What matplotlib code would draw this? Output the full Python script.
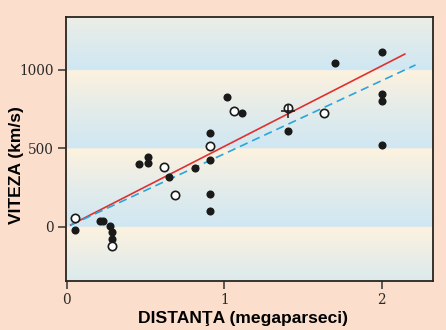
import numpy as np
import matplotlib
matplotlib.use("Agg")
import matplotlib.pyplot as plt
from matplotlib.colors import LinearSegmentedColormap

# Galaxy distances (Mpc) and radial velocities (km/s)
filled_dist = [0.053, 0.214, 0.232, 0.273, 0.284, 0.288, 0.459, 0.514, 0.514,
               0.646, 0.815, 0.912, 0.912, 0.912, 0.912, 1.014, 1.113,
               1.405, 1.704, 2.0, 2.0, 2.0, 2.0]
filled_vel = [-19, 40, 40, 6, -30, -78, 399, 444, 410,
              317, 374, 597, 427, 212, 102, 830, 726,
              613, 1046, 1113, 845, 805, 522]

open_dist = [0.05, 0.288, 0.618, 0.684, 0.912, 1.062, 1.405, 1.632]
open_vel = [55, -121, 384, 202, 516, 739, 760, 726]

mean_dist = [1.405]
mean_vel = [740]

# Fitted velocity-distance relations: slope (km/s per Mpc) and x span
fit_solid_slope = 513
fit_solid_span = [0.025, 2.146]
fit_dashed_slope = 466
fit_dashed_span = [0.025, 2.214]

x_ticks = [0, 1, 2]
y_ticks = [0, 500, 1000]

bg = "#FBDFCC"
fig = plt.figure(figsize=(4.46, 3.30), dpi=100, facecolor=bg)
ax = fig.add_axes([66 / 446, 1 - 281 / 330, 367 / 446, 264 / 330])

xmin, xmax = -0.005, 2.325
ymin, ymax = -344, 1337

# Banded background: each 500 km/s band fades from blue (bottom) to cream (top)
cmap = LinearSegmentedColormap.from_list("band", ["#CFE7F3", "#E4ECEA", "#FDF2DE"])
yy = np.linspace(ymin, ymax, 800)
t = np.mod(yy, 500) / 500.0
ax.imshow(t[:, None], aspect="auto", cmap=cmap, origin="lower",
          extent=[xmin, xmax, ymin, ymax], interpolation="bilinear", zorder=0)

for slope, span, style, col in [
    (fit_solid_slope, fit_solid_span, "-", "#E0302F"),
    (fit_dashed_slope, fit_dashed_span, (0, (5, 3)), "#2AA5DD"),
]:
    xs = np.array(span)
    ax.plot(xs, slope * xs, linestyle=style, color=col, lw=1.2, zorder=2)

ax.scatter(filled_dist, filled_vel, s=34, color="#1a1a1a", zorder=3, linewidths=0)
ax.scatter(open_dist, open_vel, s=36, facecolor="white", edgecolor="#1a1a1a",
           linewidths=1.2, zorder=3)
ax.scatter(mean_dist, mean_vel, s=110, marker="+", color="#1a1a1a",
           linewidths=1.1, zorder=4)

ax.set_xlim(xmin, xmax)
ax.set_ylim(ymin, ymax)
ax.set_xticks(x_ticks)
ax.set_yticks(y_ticks)
ax.set_xticklabels([str(v) for v in x_ticks])
ax.set_yticklabels([str(v) for v in y_ticks])

for s in ax.spines.values():
    s.set_color("#2a2420")
    s.set_linewidth(1.3)

ax.tick_params(direction="out", length=6, width=1.1, color="#333333",
               labelcolor="#2a2a2a", labelsize=9.8, pad=3)
for lab in ax.get_xticklabels() + ax.get_yticklabels():
    lab.set_family("DejaVu Serif")

label_style = dict(fontsize=12.6, fontweight="bold", family="Liberation Sans",
                   ha="center", va="center")
fig.text(243.5 / 446, 1 - 318 / 330, "DISTANŢA (megaparseci)", **label_style)
fig.text(17 / 446, 1 - 165.5 / 330, "VITEZA (km/s)", rotation=90, **label_style)

fig.savefig("out.png", dpi=100, facecolor=bg)
